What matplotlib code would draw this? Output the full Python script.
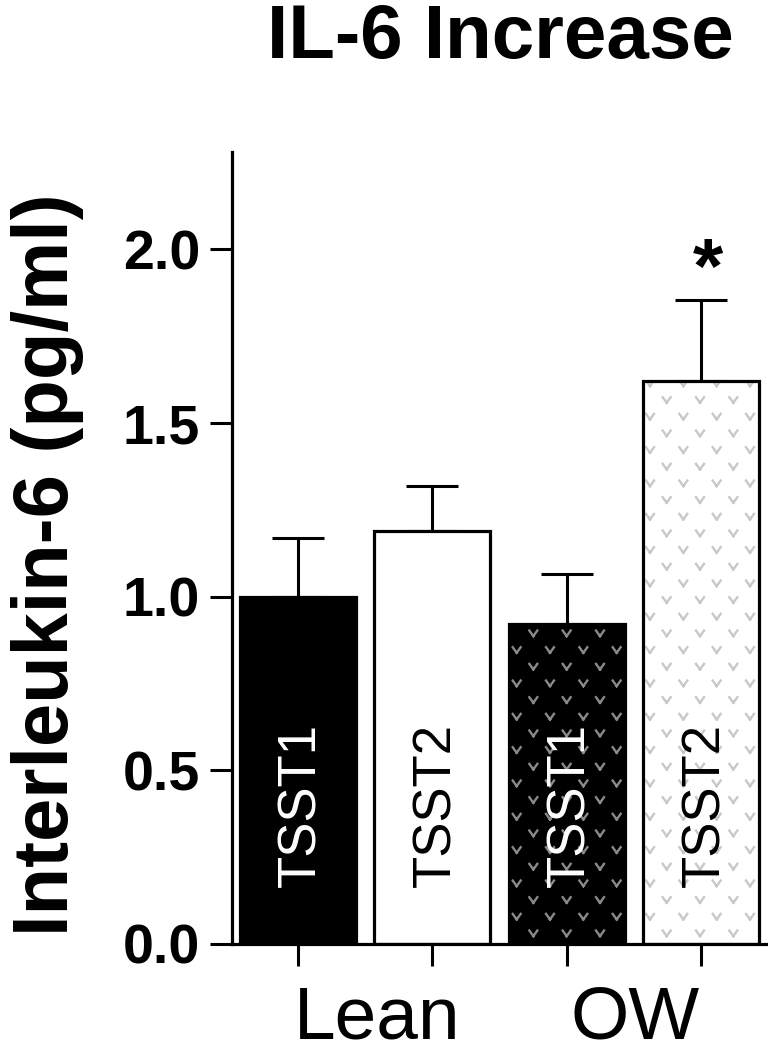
import matplotlib
matplotlib.use("Agg")
import matplotlib.pyplot as plt
import matplotlib.hatch as mhatch
from matplotlib.path import Path
import numpy as np

plt.rcParams['font.family'] = ['Liberation Sans', 'DejaVu Sans']
plt.rcParams['hatch.linewidth'] = 1.7

# data
barLabels = ["TSST1", "TSST2", "TSST1", "TSST2"]
groupLabels = ["Lean", "OW"]
il6Means = [1.00, 1.19, 0.92, 1.62]
il6Sem = [0.17, 0.13, 0.145, 0.235]
significant = [False, False, False, True]

fillColors = ["black", "white", "black", "white"]
hatchColors = [None, None, "#8a8a8a", "#c8c8c8"]
textColors = ["white", "black", "white", "black"]


class VeeHatch(mhatch.HatchPatternBase):
    """Small 'v' marks on a staggered grid, used in place of the '*' hatch."""

    def __init__(self, hatch, density):
        self.cols = 3
        self.rows = 6
        self.centres = []
        if '*' in hatch:
            for r in range(self.rows + 1):
                if r % 2 == 0:
                    xs = np.linspace(0, 1, self.cols + 1)
                else:
                    xs = np.linspace(0.5 / self.cols, 1 - 0.5 / self.cols, self.cols)
                for x in xs:
                    self.centres.append((x, r / self.rows))
        self.num_vertices = 4 * len(self.centres)

    def set_vertices_and_codes(self, vertices, codes):
        a, b = 0.04, 0.028
        for i, (cx, cy) in enumerate(self.centres):
            vertices[4 * i:4 * i + 4] = [(cx - a, cy + b), (cx, cy - b),
                                         (cx + a, cy + b), (cx, cy - b)]
            codes[4 * i:4 * i + 4] = [Path.MOVETO, Path.LINETO, Path.MOVETO, Path.LINETO]


hatchMark = ".."
if hasattr(mhatch, "_hatch_types") and mhatch.Stars in mhatch._hatch_types:
    mhatch._hatch_types[mhatch._hatch_types.index(mhatch.Stars)] = VeeHatch
    hatchMark = "*"

fig = plt.figure(figsize=(7.68, 10.5), dpi=100)
ax = fig.add_axes([0.302, 0.101, 0.695, 0.754])

xPos = np.arange(len(il6Means))
barWidth = 0.86

# base fill
ax.bar(xPos, il6Means, width=barWidth, color=fillColors, edgecolor="none", zorder=2)
# hatch layers for the OW bars
for x, h, hc in zip(xPos, il6Means, hatchColors):
    if hc is None:
        continue
    ax.bar(x, h, width=barWidth, color="none", edgecolor=hc, linewidth=0,
           hatch=hatchMark, zorder=3)
# outlines
ax.bar(xPos, il6Means, width=barWidth, color="none", edgecolor="black",
       linewidth=2.3, zorder=4)

# upper error bars only
ax.errorbar(xPos, il6Means, yerr=[np.zeros(len(il6Sem)), il6Sem], fmt="none",
            ecolor="black", elinewidth=2.2, capsize=18.5, capthick=2.2, zorder=1)

# labels inside the bars
for x, lbl, tc in zip(xPos, barLabels, textColors):
    ax.text(x + 0.03, 0.40, lbl, rotation=90, ha="center", va="center", color=tc,
            fontsize=38, zorder=5)

# significance star
for x, m, e, sig in zip(xPos, il6Means, il6Sem, significant):
    if sig:
        ax.text(x + 0.05, m + e + 0.02, "*", ha="center", va="baseline",
                fontsize=56, fontweight="bold", zorder=5)

ax.set_xlim(-0.49, 3.48)
ax.set_ylim(0, 2.28)
ax.set_yticks([0.0, 0.5, 1.0, 1.5, 2.0])
ax.set_yticklabels(["0.0", "0.5", "1.0", "1.5", "2.0"], fontsize=40, fontweight="bold")
ax.tick_params(axis="y", length=16, width=2.2, pad=7)

ax.set_xticks(xPos)
ax.set_xticklabels([""] * len(xPos))
ax.tick_params(axis="x", which="major", length=16, width=2.2)
ax.set_xticks([0.59, 2.51], minor=True)
ax.set_xticklabels(groupLabels, minor=True, fontsize=54)
ax.tick_params(axis="x", which="minor", length=0, pad=29)

for side in ["top", "right"]:
    ax.spines[side].set_visible(False)
for side in ["left", "bottom"]:
    ax.spines[side].set_linewidth(2.3)

fig.text(0.0625, 0.462, "Interleukin-6 (pg/ml)", rotation=90, ha="center", va="center",
         fontsize=56, fontweight="bold")
fig.text(0.652, 0.945, "IL-6 Increase", ha="center", va="baseline",
         fontsize=55, fontweight="bold")

fig.savefig("out.png", dpi=100)
